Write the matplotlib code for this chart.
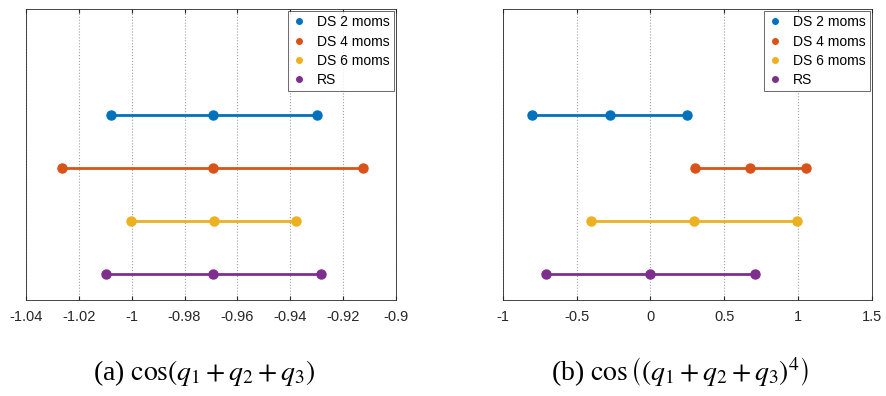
import numpy as np
import matplotlib.pyplot as plt

plt.rcParams['font.family'] = ['Liberation Sans', 'DejaVu Sans']
plt.rcParams['mathtext.fontset'] = 'stix'

# interval ends + mean for each method
labels = ["DS 2 moms", "DS 4 moms", "DS 6 moms", "RS"]
colors = ["#0072BD", "#D95319", "#EDB120", "#7E2F8E"]
rows = [4, 3, 2, 1]

# (a) cos(q1+q2+q3)
a_low = [-1.008, -1.0264, -1.0004, -1.0099]
a_mean = [-0.9691, -0.9693, -0.9690, -0.9691]
a_high = [-0.930, -0.9124, -0.9377, -0.9284]
a_ticks = [-1.04, -1.02, -1, -0.98, -0.96, -0.94, -0.92, -0.9]
a_ticklabels = ["-1.04", "-1.02", "-1", "-0.98", "-0.96", "-0.94", "-0.92", "-0.9"]

# (b) cos((q1+q2+q3)^4)
b_low = [-0.804, 0.303, -0.400, -0.707]
b_mean = [-0.276, 0.677, 0.296, 0.0]
b_high = [0.2466, 1.056, 0.993, 0.709]
b_ticks = [-1, -0.5, 0, 0.5, 1, 1.5]
b_ticklabels = ["-1", "-0.5", "0", "0.5", "1", "1.5"]

captions = [r"(a) $\cos(q_1+q_2+q_3)$",
            r"(b) $\cos\left((q_1+q_2+q_3)^4\right)$"]

fig = plt.figure(figsize=(8.87, 3.96), dpi=100)
ax1 = fig.add_axes([0.0293, 0.2424, 0.4171, 0.7349])
ax2 = fig.add_axes([0.5667, 0.2424, 0.4164, 0.7349])

panels = [(ax1, a_low, a_mean, a_high, a_ticks, a_ticklabels),
          (ax2, b_low, b_mean, b_high, b_ticks, b_ticklabels)]

for k, (ax, lo, mu, hi, ticks, tlabels) in enumerate(panels):
    for i in range(4):
        ax.plot([lo[i], mu[i], hi[i]], [rows[i]] * 3, '-o', color=colors[i],
                lw=2, ms=6.5, label=labels[i])
    ax.set_xlim(ticks[0], ticks[-1])
    ax.set_ylim(0.5, 6)
    ax.set_xticks(ticks)
    ax.set_xticklabels(tlabels)
    ax.set_yticks([])
    ax.grid(axis='x', linestyle=':', color='#a0a0a0', lw=0.8)
    ax.tick_params(axis='x', direction='in', length=3, labelsize=10.5,
                   colors='#262626', top=True, pad=7.5)
    for s in ax.spines.values():
        s.set_color('#262626')
        s.set_linewidth(0.6)
    handles = [plt.Line2D([], [], ls='none', marker='o', ms=4, color=c)
               for c in colors]
    leg = ax.legend(handles, labels, loc='upper right', fontsize=10,
                    frameon=True, fancybox=False, handlelength=1.0,
                    handletextpad=0.8, borderaxespad=0.15, labelspacing=0.38,
                    borderpad=0.3)
    leg.get_frame().set_edgecolor('#262626')
    leg.get_frame().set_linewidth(0.6)
    pos = ax.get_position()
    fig.text((pos.x0 + pos.x1) / 2 - 0.008, 0.04, captions[k], ha='center',
             va='baseline', fontsize=20, family='Liberation Serif')

fig.savefig("out.png", dpi=100)
